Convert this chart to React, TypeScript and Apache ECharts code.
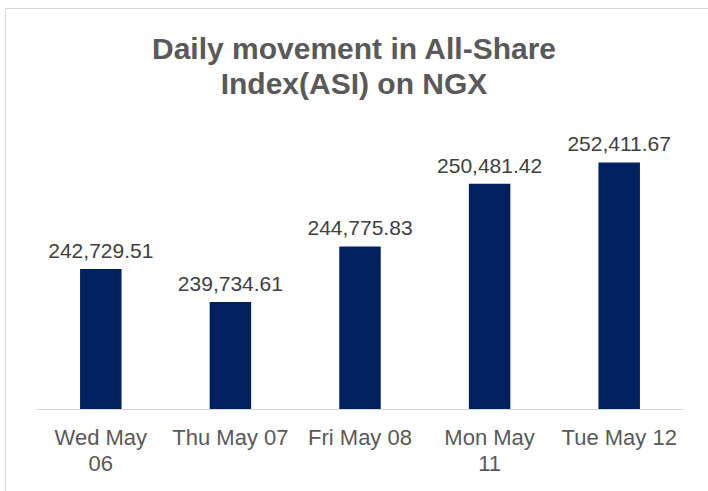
import React, { useEffect, useRef } from "react";
import * as echarts from "echarts";

const categories = ["Wed May\n06", "Thu May 07", "Fri May 08", "Mon May\n11", "Tue May 12"];
const asiValues = [242729.51, 239734.61, 244775.83, 250481.42, 252411.67];
const titleText = "Daily movement in All-Share\nIndex(ASI) on NGX";

const fmt = (v: number) =>
  v.toLocaleString("en-US", { minimumFractionDigits: 2, maximumFractionDigits: 2 });

export default function App() {
  const ref = useRef<HTMLDivElement>(null);
  useEffect(() => {
    if (!ref.current) return;
    const chart = echarts.init(ref.current, undefined, { renderer: "svg" });
    chart.setOption({
      animation: false,
      backgroundColor: "#ffffff",
      title: {
        text: titleText,
        left: "center",
        top: 26,
        textStyle: {
          fontFamily: "Liberation Sans, Arial, sans-serif",
          fontSize: 30,
          fontWeight: "bold",
          color: "#595959",
          lineHeight: 35,
        },
      },
      graphic: [
        {
          type: "rect",
          shape: { x: 5.5, y: 8.5, width: 800, height: 600 },
          style: { fill: "none", stroke: "#d9d9d9", lineWidth: 1 },
          silent: true,
        },
      ],
      grid: { left: 36, right: 24, top: 134, bottom: 82, containLabel: false },
      xAxis: {
        type: "category",
        data: categories,
        axisLine: { show: true, lineStyle: { color: "#d9d9d9", width: 1 } },
        axisTick: { show: false },
        axisLabel: {
          interval: 0,
          margin: 15,
          fontFamily: "Liberation Sans, Arial, sans-serif",
          fontSize: 22,
          lineHeight: 26,
          color: "#595959",
        },
      },
      yAxis: {
        type: "value",
        min: 230000,
        max: 255000,
        show: false,
        splitLine: { show: false },
      },
      series: [
        {
          type: "bar",
          data: asiValues,
          barWidth: "32%",
          itemStyle: { color: "#002060" },
          label: {
            show: true,
            position: "top",
            distance: 8,
            formatter: (p: any) => fmt(p.value),
            fontFamily: "Liberation Sans, Arial, sans-serif",
            fontSize: 21,
            color: "#404040",
          },
        },
      ],
    });
    return () => chart.dispose();
  }, []);
  return (
    <div
      ref={ref}
      style={{ position: "absolute", left: 0, top: 0, width: 708, height: 491 }}
    />
  );
}
